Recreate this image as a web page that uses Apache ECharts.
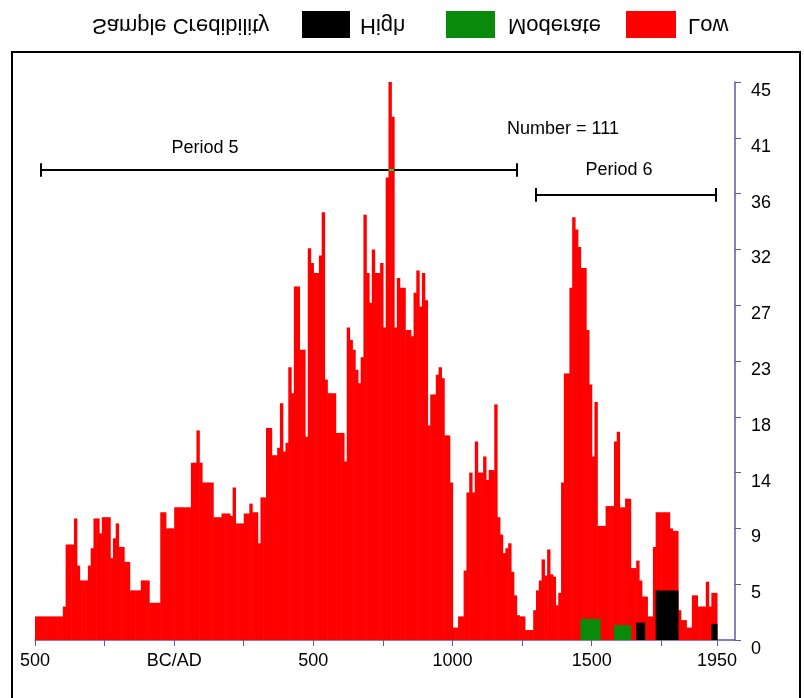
<!DOCTYPE html>
<html>
<head>
<meta charset="utf-8">
<script src="https://cdn.jsdelivr.net/npm/echarts@6/dist/echarts.min.js"></script>
<style>
html, body { margin: 0; padding: 0; background: #fff; }
#main { width: 804px; height: 698px; }
</style>
</head>
<body>
<div id="main"></div>
<script>
// 10-year bins from 500 BC
var binStart = -500;
var binWidth = 10;

// summed counts (top of the red bars), one row per century
var totalCounts = [
  1.9, 1.9, 1.9, 1.9, 1.9, 1.9, 1.9, 1.9, 1.9, 1.9,      // -500
  2.7, 7.7, 7.7, 7.7, 9.8, 6.0, 4.8, 4.8, 4.8, 6.0,      // -400
  7.4, 9.8, 9.8, 8.6, 9.9, 9.9, 9.9, 6.6, 8.2, 9.4,      // -300
  7.5, 7.5, 6.3, 6.3, 4.0, 4.0, 4.0, 4.0, 4.8, 4.8,      // -200
  4.8, 3.0, 3.0, 3.0, 3.0, 10.3, 10.3, 9.0, 9.0, 9.0,    // -100
  10.7, 10.7, 10.7, 10.7, 10.7, 10.7, 14.3, 14.3, 16.9, 14.3, // 0
  12.7, 12.7, 12.7, 12.7, 9.9, 9.9, 9.9, 10.2, 10.2, 10.2,    // 100
  10.0, 12.3, 9.4, 9.4, 9.4, 10.2, 10.2, 11.0, 10.3, 10.3,    // 200
  7.8, 11.5, 11.5, 17.1, 17.1, 14.9, 14.9, 15.5, 19.1, 15.2,  // 300
  15.9, 22.0, 19.9, 28.5, 28.5, 23.4, 23.4, 16.4, 31.6, 30.4, // 400
  29.6, 29.6, 31.0, 34.5, 21.0, 19.9, 19.9, 19.9, 16.7, 16.7, // 500
  16.7, 14.4, 25.2, 24.2, 23.4, 21.8, 20.7, 22.8, 34.3, 29.6, // 600
  27.2, 31.5, 29.6, 29.6, 30.4, 25.2, 37.3, 45.0, 42.2, 25.2, // 700
  29.2, 28.4, 28.4, 25.0, 25.0, 24.5, 28.0, 29.8, 26.9, 29.6, // 800
  27.4, 17.3, 19.8, 19.8, 21.4, 22.0, 21.1, 16.5, 16.5, 12.7, // 900
  1.0, 1.0, 1.9, 1.9, 5.6, 11.9, 13.5, 11.9, 16.0, 13.5,      // 1000
  13.5, 14.8, 12.9, 13.7, 13.7, 19.0, 9.9, 8.5, 7.0, 7.4,     // 1100
  7.8, 5.5, 3.6, 2.0, 1.9, 1.9, 0.8, 0.8, 0.8, 2.4,           // 1200
  4.0, 4.8, 6.5, 5.2, 7.3, 5.3, 5.1, 2.8, 3.8, 12.7,          // 1300
  21.5, 21.5, 28.4, 34.1, 33.1, 31.7, 30.0, 30.0, 25.0, 20.6, // 1400
  14.8, 19.2, 9.2, 9.2, 9.2, 10.8, 10.8, 10.8, 16.0, 16.8,    // 1500
  10.7, 10.7, 11.4, 11.4, 5.8, 5.8, 6.4, 4.8, 3.5, 3.5,       // 1600
  1.9, 1.9, 7.5, 10.3, 10.3, 10.3, 10.3, 10.3, 9.0, 8.8,      // 1700
  8.8, 2.4, 1.6, 1.6, 1.0, 1.0, 3.6, 3.6, 2.7, 2.7,           // 1800
  2.7, 4.7, 2.7, 3.8, 3.8                                     // 1900
];

// high credibility samples (black)
var highStart = [1660, 1730, 1930];
var highEnd   = [1690, 1810, 1950];
var highValue = [1.4, 4.0, 1.3];

// moderate credibility samples (green)
var modStart = [1460, 1580];
var modEnd   = [1530, 1640];
var modValue = [1.7, 1.2];

var tickYears  = [-500, -250, 0, 250, 500, 750, 1000, 1250, 1500, 1750, 1950];
var labelYears = [-500, 0, 500, 1000, 1500, 1950];

var periodFrom  = [-480, 1300];
var periodTo    = [1230, 1945];
var periodLevel = [37.9, 35.9];

var myChart = echarts.init(document.getElementById('main'));

var lowData = [];
for (var i = 0; i < totalCounts.length; i++) {
  var s = binStart + i * binWidth;
  lowData.push([s, s + binWidth, totalCounts[i]]);
}
var highData = highStart.map(function (s, i) { return [s, highEnd[i], highValue[i]]; });
var modData = modStart.map(function (s, i) { return [s, modEnd[i], modValue[i]]; });

function barItem(color) {
  return function (params, api) {
    var p0 = api.coord([api.value(0), 0]);
    var p1 = api.coord([api.value(1), api.value(2)]);
    return {
      type: 'rect',
      shape: { x: p0[0], y: p1[1], width: p1[0] - p0[0] + 0.6, height: p0[1] - p1[1] },
      style: { fill: color }
    };
  };
}

var periodLines = [];
for (var k = 0; k < periodFrom.length; k++) {
  var lv = periodLevel[k];
  periodLines.push([{ coord: [periodFrom[k], lv] }, { coord: [periodTo[k], lv] }]);
  periodLines.push([{ coord: [periodFrom[k], lv - 0.55] }, { coord: [periodFrom[k], lv + 0.55] }]);
  periodLines.push([{ coord: [periodTo[k], lv - 0.55] }, { coord: [periodTo[k], lv + 0.55] }]);
}
// the line turns green where it crosses the peak
periodLines.push([{ coord: [770, periodLevel[0]], lineStyle: { color: '#33cc33', width: 2 } }, { coord: [790, periodLevel[0]] }]);

var axisColor = '#5a5aaa';
var font = '"Liberation Sans", Arial, sans-serif';

function flipText(x, y, text, size) {
  return {
    type: 'text', x: x, y: y, scaleY: -1,
    style: { text: text, fill: '#000', font: size + 'px ' + font, textAlign: 'left', textVerticalAlign: 'middle' }
  };
}

option = {
  backgroundColor: '#fff',
  animation: false,
  grid: { left: 35, right: 69, top: 82, bottom: 58 },
  xAxis: {
    type: 'value',
    min: -500,
    max: 2015,
    splitLine: { show: false },
    axisLine: { onZero: false, lineStyle: { color: axisColor, width: 1.5 } },
    axisTick: { customValues: tickYears, length: 6, lineStyle: { color: axisColor } },
    axisLabel: {
      customValues: labelYears,
      color: '#000',
      fontSize: 18,
      fontFamily: font,
      margin: 12,
      formatter: function (v) {
        if (v === 0) return 'BC/AD';
        return String(Math.abs(v));
      }
    }
  },
  yAxis: {
    type: 'value',
    position: 'right',
    min: 0,
    max: 45,
    interval: 4.5,
    splitLine: { show: false },
    axisLine: { show: true, onZero: false, lineStyle: { color: axisColor, width: 1.5 } },
    axisTick: { show: true, length: 6, lineStyle: { color: axisColor } },
    axisLabel: {
      color: '#000',
      fontSize: 18,
      fontFamily: font,
      margin: 16,
      verticalAlign: 'top',
      formatter: function (v) { return String(Math.round(v)); }
    }
  },
  series: [
    {
      name: 'Low', type: 'custom', renderItem: barItem('#ff0000'),
      encode: { x: [0, 1], y: 2 }, data: lowData, z: 2
    },
    {
      name: 'Moderate', type: 'custom', renderItem: barItem('#0a8a0a'),
      encode: { x: [0, 1], y: 2 }, data: modData, z: 3
    },
    {
      name: 'High', type: 'custom', renderItem: barItem('#000000'),
      encode: { x: [0, 1], y: 2 }, data: highData, z: 3
    },
    {
      name: 'periods', type: 'line', data: [], z: 4,
      markLine: {
        silent: true,
        symbol: 'none',
        label: { show: false },
        lineStyle: { color: '#000', width: 2, type: 'solid' },
        data: periodLines
      }
    }
  ],
  graphic: [
    { type: 'rect', shape: { x: 12, y: 52, width: 788, height: 660 }, style: { fill: 'none', stroke: '#000', lineWidth: 2 } },
    flipText(92, 25, 'Sample Credibility', 22),
    { type: 'rect', shape: { x: 302, y: 11, width: 48, height: 27 }, style: { fill: '#000' } },
    flipText(360, 25, 'High', 22),
    { type: 'rect', shape: { x: 446, y: 11, width: 49, height: 27 }, style: { fill: '#0a8a0a' } },
    flipText(508, 25, 'Moderate', 22),
    { type: 'rect', shape: { x: 626, y: 11, width: 50, height: 27 }, style: { fill: '#ff0000' } },
    flipText(688, 25, 'Low', 22),
    { type: 'text', x: 205, y: 148, style: { text: 'Period 5', fill: '#000', font: '18px ' + font, textAlign: 'center', textVerticalAlign: 'middle' } },
    { type: 'text', x: 563, y: 129, style: { text: 'Number = 111', fill: '#000', font: '18px ' + font, textAlign: 'center', textVerticalAlign: 'middle' } },
    { type: 'text', x: 619, y: 170, style: { text: 'Period 6', fill: '#000', font: '18px ' + font, textAlign: 'center', textVerticalAlign: 'middle' } }
  ]
};

myChart.setOption(option);
</script>
</body>
</html>
